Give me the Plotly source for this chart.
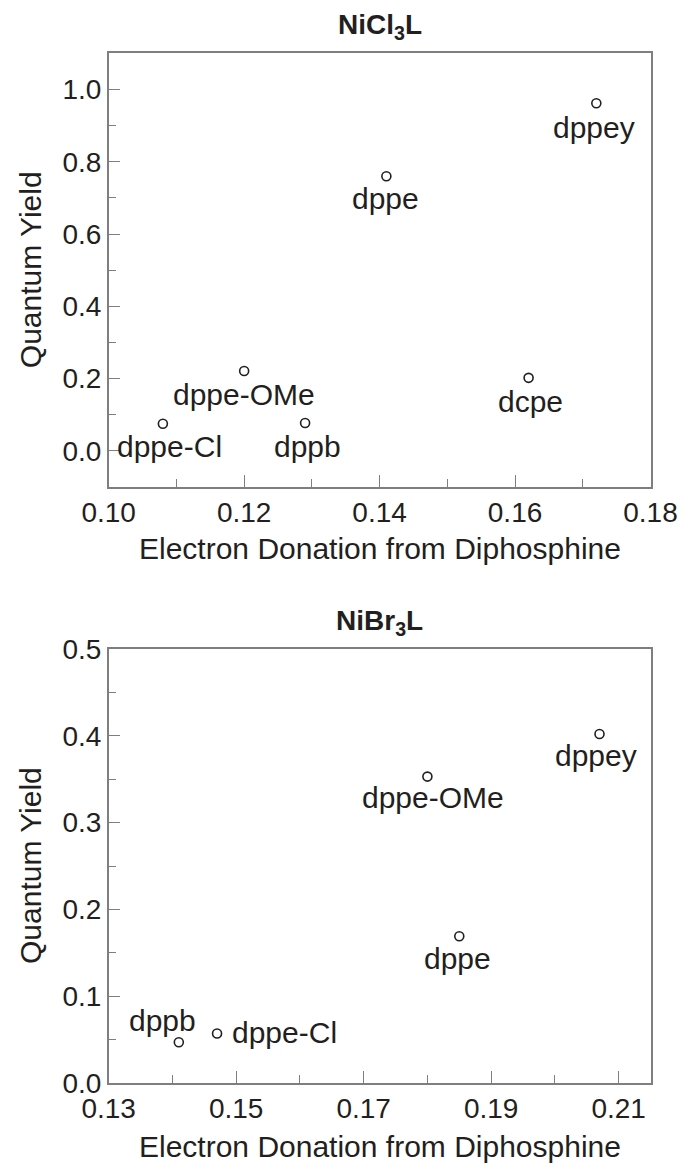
import plotly.graph_objects as go

# ---- data ----
cl_ligands = ["dppey", "dppe", "dcpe", "dppe-OMe", "dppe-Cl", "dppb"]
cl_donation = [0.172, 0.141, 0.162, 0.120, 0.108, 0.129]
cl_qy = [0.962, 0.760, 0.202, 0.221, 0.075, 0.077]

br_ligands = ["dppey", "dppe-OMe", "dppe", "dppb", "dppe-Cl"]
br_donation = [0.207, 0.180, 0.185, 0.141, 0.147]
br_qy = [0.402, 0.353, 0.169, 0.047, 0.057]

x_ticks_cl = [0.10, 0.12, 0.14, 0.16, 0.18]
x_ticks_br = [0.13, 0.15, 0.17, 0.19, 0.21]

# ---- style ----
OFF = 8  # default page body margin
W, H = 686 - OFF, 1164 - OFF
FONT = "Liberation Sans, Arial, Helvetica, sans-serif"
TXT = "#231f20"
AX = "#7f7f7f"
TICK_FS = 28
LAB_FS = 30
TITLE_FS = 28

x0, x1 = 108.7 - OFF, 650.5 - OFF
top_box = (53.3 - OFF, 487.0 - OFF)
bot_box = (649.0 - OFF, 1083.0 - OFF)

def py(p):
    return 1 - (p - OFF) / H

def px(p):
    return (p - OFF) / W

fig = go.Figure()

# label offsets (pixels: dx, dy with dy negative = below)
cl_off = {"dppey": (-2, -24, "center"), "dppe": (-1, -22, "center"), "dcpe": (2, -24, "center"),
          "dppe-OMe": (0, -24, "center"), "dppe-Cl": (7, -23, "center"), "dppb": (2, -23, "center")}
br_off = {"dppey": (-4, -21, "center"), "dppe-OMe": (6, -21, "center"), "dppe": (-2, -22, "center"),
          "dppb": (-16, 22, "center"), "dppe-Cl": (13, 1, "left")}

marker = dict(symbol="circle-open", size=9, color=TXT, line=dict(width=1.6, color=TXT))
fig.add_trace(go.Scatter(x=cl_donation, y=cl_qy, mode="markers", marker=marker,
                         xaxis="x", yaxis="y", showlegend=False, hoverinfo="skip"))
fig.add_trace(go.Scatter(x=br_donation, y=br_qy, mode="markers", marker=marker,
                         xaxis="x2", yaxis="y2", showlegend=False, hoverinfo="skip"))

annotations = []
for name, xv, yv in zip(cl_ligands, cl_donation, cl_qy):
    dx, dy, al = cl_off[name]
    annotations.append(dict(x=xv, y=yv, xref="x", yref="y", text=name, showarrow=False,
                            xshift=dx, yshift=dy, xanchor=al, yanchor="middle",
                            font=dict(size=LAB_FS, color=TXT, family=FONT)))
for name, xv, yv in zip(br_ligands, br_donation, br_qy):
    dx, dy, al = br_off[name]
    annotations.append(dict(x=xv, y=yv, xref="x2", yref="y2", text=name, showarrow=False,
                            xshift=dx, yshift=dy, xanchor=al, yanchor="middle",
                            font=dict(size=LAB_FS, color=TXT, family=FONT)))

cx = (x0 + x1) / 2 / W
# titles
annotations.append(dict(x=cx, y=py(26), xref="paper", yref="paper", showarrow=False,
                        text="<b>NiCl<sub>3</sub>L</b>", xanchor="center", yanchor="middle",
                        font=dict(size=TITLE_FS, color=TXT, family=FONT)))
annotations.append(dict(x=cx, y=py(622), xref="paper", yref="paper", showarrow=False,
                        text="<b>NiBr<sub>3</sub>L</b>", xanchor="center", yanchor="middle",
                        font=dict(size=TITLE_FS, color=TXT, family=FONT)))
# axis titles
for yc in (548, 1146):
    annotations.append(dict(x=cx, y=py(yc), xref="paper", yref="paper", showarrow=False,
                            text="Electron Donation from Diphosphine", xanchor="center", yanchor="middle",
                            font=dict(size=LAB_FS, color=TXT, family=FONT)))
for box in (top_box, bot_box):
    annotations.append(dict(x=px(30), y=1 - ((box[0] + box[1]) / 2) / H, xref="paper", yref="paper",
                            showarrow=False, text="Quantum Yield", textangle=-90,
                            xanchor="center", yanchor="middle",
                            font=dict(size=LAB_FS, color=TXT, family=FONT)))

axis_common = dict(showline=True, linecolor=AX, linewidth=1.5, mirror=True, showgrid=False,
                   zeroline=False, ticks="inside", ticklen=12, tickwidth=1.3, tickcolor=AX,
                   automargin=False,
                   tickfont=dict(size=TICK_FS, color=TXT, family=FONT))

fig.update_layout(
    width=W, height=H, margin=dict(l=0, r=0, t=0, b=0),
    paper_bgcolor="white", plot_bgcolor="white",
    annotations=annotations,
    xaxis=dict(domain=[x0 / W, x1 / W], range=[0.10, 0.18], tickvals=x_ticks_cl,
               ticktext=[f"{v:.2f}" for v in x_ticks_cl], anchor="y",
               minor=dict(ticks="inside", ticklen=8, dtick=0.01, tick0=0.10, tickcolor=AX, tickwidth=1.3),
               **axis_common),
    yaxis=dict(domain=[1 - top_box[1] / H, 1 - top_box[0] / H], range=[-0.1, 1.1], tick0=0, dtick=0.2,
               tickformat=".1f", anchor="x",
               minor=dict(ticks="inside", ticklen=8, dtick=0.1, tick0=0, tickcolor=AX, tickwidth=1.3),
               **axis_common),
    xaxis2=dict(domain=[x0 / W, x1 / W], range=[0.13, 0.215], tickvals=x_ticks_br,
                ticktext=[f"{v:.2f}" for v in x_ticks_br], anchor="y2",
                minor=dict(ticks="inside", ticklen=8, dtick=0.01, tick0=0.13, tickcolor=AX, tickwidth=1.3),
                **axis_common),
    yaxis2=dict(domain=[1 - bot_box[1] / H, 1 - bot_box[0] / H], range=[0, 0.5], tick0=0, dtick=0.1,
                tickformat=".1f", anchor="x2",
                minor=dict(ticks="inside", ticklen=8, dtick=0.05, tick0=0, tickcolor=AX, tickwidth=1.3),
                **axis_common),
)

fig.write_html("out.html")
